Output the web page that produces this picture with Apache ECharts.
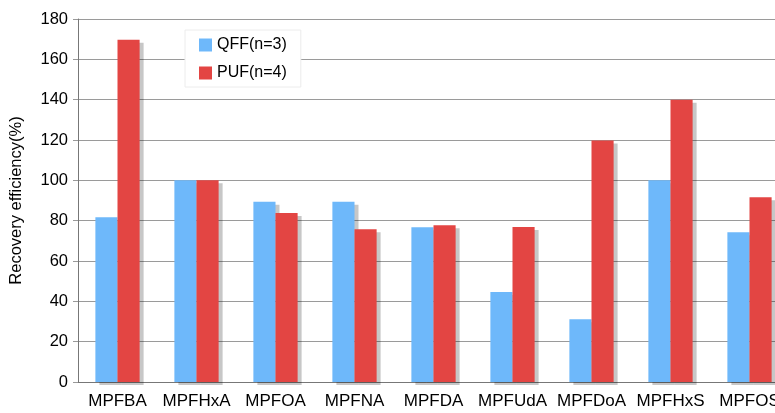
<!DOCTYPE html>
<html>
<head>
<meta charset="utf-8">
<script src="https://cdn.jsdelivr.net/npm/echarts@6/dist/echarts.min.js"></script>
<style>html,body{margin:0;padding:0;background:#fff}#c{width:775px;height:413px}</style>
</head>
<body>
<div id="c"></div>
<script>
const categories = ['MPFBA','MPFHxA','MPFOA','MPFNA','MPFDA','MPFUdA','MPFDoA','MPFHxS','MPFOS'];
const qffValues = [81.7, 100, 89.4, 89.4, 76.7, 44.6, 31.1, 100, 74.2];
const pufValues = [169.7, 100, 83.8, 75.7, 77.7, 76.9, 119.8, 140, 91.6];
const seriesNames = ['QFF(n=3)', 'PUF(n=4)'];
const yTicks = {min: 0, max: 180, interval: 20};
const yName = 'Recovery efficiency(%)';

const font = 'Liberation Sans, Arial, sans-serif';
const chart = echarts.init(document.getElementById('c'), null, {renderer: 'canvas'});
const shadow = {shadowColor: 'rgba(0,0,0,0.22)', shadowBlur: 0, shadowOffsetX: 4, shadowOffsetY: 3};
chart.setOption({
  animation: false,
  backgroundColor: '#fff',
  grid: {left: 78, top: 19, width: 711, height: 363, containLabel: false, outerBoundsMode: 'none'},
  legend: {
    orient: 'vertical', left: 185, top: 30,
    padding: [7, 14, 6, 14],
    backgroundColor: '#fff', borderColor: '#ececec', borderWidth: 1,
    itemWidth: 13, itemHeight: 13, itemGap: 12,
    icon: 'rect',
    textStyle: {fontFamily: font, fontSize: 16, color: '#000', lineHeight: 16},
    data: seriesNames
  },
  xAxis: {
    type: 'category', data: categories,
    axisLine: {lineStyle: {color: '#777', width: 1}},
    axisTick: {inside: true, length: 5, lineStyle: {color: '#777'}},
    axisLabel: {fontFamily: font, fontSize: 17, color: '#000', margin: 11, interval: 0}
  },
  yAxis: {
    type: 'value', min: yTicks.min, max: yTicks.max, interval: yTicks.interval,
    name: yName, nameLocation: 'middle', nameGap: 53, nameRotate: 90,
    nameTextStyle: {fontFamily: font, fontSize: 16.5, color: '#000'},
    axisLine: {show: true, lineStyle: {color: '#777', width: 1}},
    axisTick: {show: true, length: 5, lineStyle: {color: '#999'}},
    axisLabel: {fontFamily: font, fontSize: 16.5, color: '#000', margin: 10},
    splitLine: {lineStyle: {color: '#9a9a9a', width: 1}}
  },
  series: [
    {name: seriesNames[0], type: 'bar', data: qffValues, barGap: '0%', barCategoryGap: '44%',
     itemStyle: Object.assign({color: '#6EB8FA'}, shadow)},
    {name: seriesNames[1], type: 'bar', data: pufValues, barGap: '0%', barCategoryGap: '44%',
     itemStyle: Object.assign({color: '#E34543'}, shadow)}
  ]
});
</script>
</body>
</html>
